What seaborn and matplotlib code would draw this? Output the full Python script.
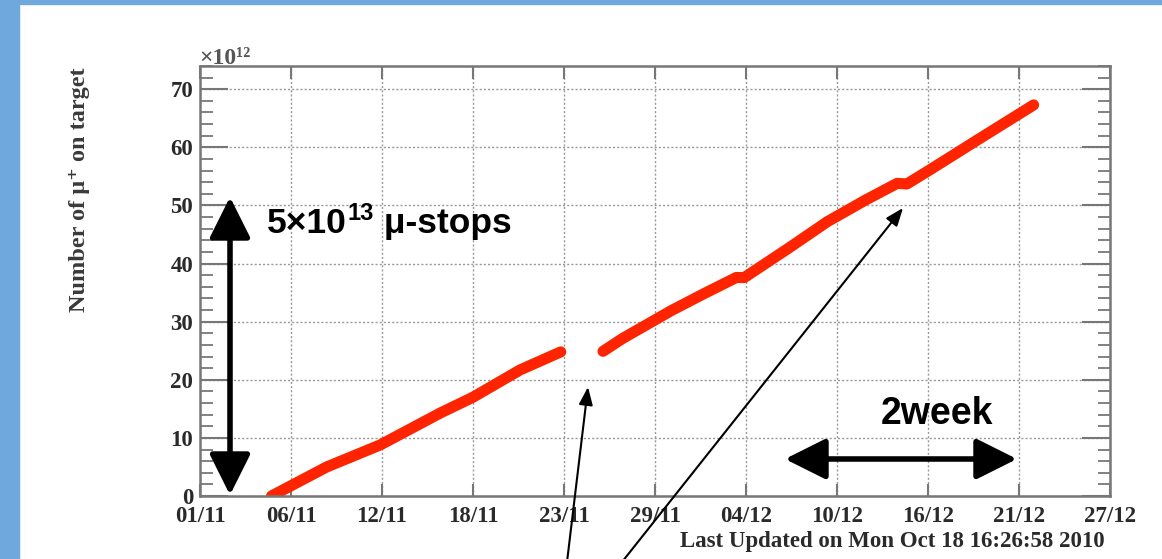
import matplotlib
matplotlib.use("Agg")
import matplotlib.pyplot as plt
from matplotlib.patches import FancyArrowPatch, Rectangle, ArrowStyle
from matplotlib.ticker import MultipleLocator
import seaborn as sns
import numpy as np

# days since 01/11 00:00, muons on target in units of 1e12
days_before = [4.4, 7.8, 11.1, 14.8, 16.8, 19.7, 22.2]
mu_before = [0.0, 5.0, 8.8, 14.3, 17.0, 21.7, 24.8]

days_after = [24.8, 26.0, 29.0, 31.0, 33.0, 33.5, 36.3, 38.6, 41.0, 42.9, 43.5, 44.9, 47.8, 51.3]
mu_after = [24.9, 27.1, 31.9, 34.8, 37.6, 37.6, 42.8, 47.2, 51.0, 53.8, 53.7, 56.1, 61.2, 67.3]

tick_days = [0, 5.6, 11.2, 16.8, 22.4, 28.0, 33.6, 39.2, 44.8, 50.4, 56.0]
tick_labels = ["01/11", "06/11", "12/11", "18/11", "23/11", "29/11",
               "04/12", "10/12", "16/12", "21/12", "27/12"]

W, H = 1162, 559

sns.set_style("white")
plt.rcParams["font.family"] = ["Liberation Serif", "DejaVu Serif"]
sans = ["Liberation Sans", "DejaVu Sans"]


def fx(px):
    return px / W


def fy(py):
    return 1 - py / H


fig = plt.figure(figsize=(W / 100, H / 100), dpi=100)
fig.patches.append(Rectangle((0, 0), fx(19), 1, transform=fig.transFigure,
                             color="#6fa8dc", zorder=0))
fig.patches.append(Rectangle((0, fy(4)), 1, 4 / H, transform=fig.transFigure,
                             color="#6fa8dc", zorder=0))

ax = fig.add_axes([fx(200), fy(496), 910 / W, 430 / H])

red = "#ff2400"
sns.lineplot(x=days_before, y=mu_before, color=red, linewidth=8,
             solid_capstyle="round", solid_joinstyle="round", ax=ax)
sns.lineplot(x=days_after, y=mu_after, color=red, linewidth=8,
             solid_capstyle="round", solid_joinstyle="round", ax=ax)

ax.set_xlim(0, 56)
ax.set_ylim(0, 74)
ax.set_xticks(tick_days)
ax.set_xticklabels(tick_labels)
ax.yaxis.set_major_locator(MultipleLocator(10))
ax.yaxis.set_minor_locator(MultipleLocator(2))

ax.grid(True, which="major", color="#999999", linestyle=(0, (1.5, 1.5)), linewidth=1)
ax.tick_params(axis="x", which="major", direction="in", length=9, width=1.5,
               color="#777777", top=True, bottom=True, pad=7)
ax.tick_params(axis="y", which="major", direction="in", length=20, width=1.5,
               color="#777777", left=True, right=True, pad=5)
ax.tick_params(axis="y", which="minor", direction="in", length=9, width=1.3,
               color="#777777", left=True, right=True)
for lab in ax.get_xticklabels() + ax.get_yticklabels():
    lab.set_fontsize(16.5)
    lab.set_fontweight("bold")
    lab.set_color("#2a2a2a")
for s in ax.spines.values():
    s.set_color("#777777")
    s.set_linewidth(1.8)

ax.set_xlabel("")
ax.set_ylabel("")

fig.text(fx(80), fy(67), "Number of μ⁺ on target", rotation=90, ha="center",
         va="top", fontsize=17.5, fontweight="bold", color="#3a3a3a")
fig.text(fx(199), fy(64), "×10¹²", ha="left", va="baseline", fontsize=17,
         fontweight="bold", color="#555555")
fig.text(fx(1105), fy(541), "Last Updated on Mon Oct 18 16:26:58 2010",
         ha="right", va="center", fontsize=16.5, fontweight="bold", color="#2a2a2a")

# slide annotations
big = ArrowStyle("<|-|>", head_length=1.0, head_width=0.5)
fig.add_artist(FancyArrowPatch((fx(230), fy(495)), (fx(230), fy(197)),
                               transform=fig.transFigure, arrowstyle=big,
                               mutation_scale=25, lw=4, color="black",
                               shrinkA=0, shrinkB=0))
fig.add_artist(FancyArrowPatch((fx(785), fy(459)), (fx(1017), fy(459)),
                               transform=fig.transFigure, arrowstyle=big,
                               mutation_scale=25, lw=4, color="black",
                               shrinkA=0, shrinkB=0))
thin = ArrowStyle("-|>", head_length=0.9, head_width=0.35)
fig.add_artist(FancyArrowPatch((fx(567), fy(562)), (fx(588), fy(387)),
                               transform=fig.transFigure, arrowstyle=thin,
                               mutation_scale=12, lw=1.5, color="black",
                               shrinkA=0, shrinkB=0))
fig.add_artist(FancyArrowPatch((fx(622), fy(562)), (fx(903), fy(208)),
                               transform=fig.transFigure, arrowstyle=thin,
                               mutation_scale=12, lw=1.5, color="black",
                               shrinkA=0, shrinkB=0))

# "5x10^13 mu-stops" built from pieces so the exponent sits like on the slide
fig.canvas.draw()
renderer = fig.canvas.get_renderer()
t1 = fig.text(fx(267), fy(233), "5×10", ha="left", va="baseline",
              fontsize=25.5, fontweight="bold", family=sans, color="black")
x_end = t1.get_window_extent(renderer).x1 / W
t2 = fig.text(x_end + fx(1), fy(220), "13", ha="left", va="baseline",
              fontsize=17, fontweight="bold", family=sans, color="black")
x_end = t2.get_window_extent(renderer).x1 / W
fig.text(x_end, fy(233), " μ-stops", ha="left", va="baseline",
         fontsize=25.5, fontweight="bold", family=sans, color="black")

fig.text(fx(881), fy(424), "2week", ha="left", va="baseline",
         fontsize=27, fontweight="bold", family=sans, color="black")

fig.savefig("out.png", dpi=100)
